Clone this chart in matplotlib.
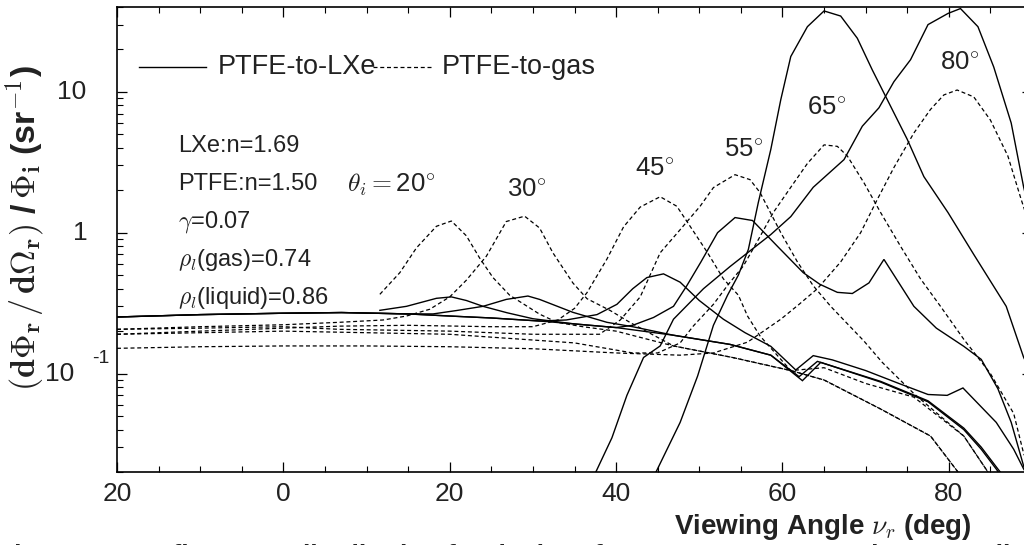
import matplotlib
matplotlib.use("Agg")
import matplotlib.pyplot as plt
from matplotlib.ticker import FixedLocator, LogLocator, MultipleLocator, NullFormatter

plt.rcParams['font.family'] = ['Liberation Sans', 'DejaVu Sans']
plt.rcParams['mathtext.fontset'] = 'cm'

# ---- reflectance curves, PTFE-to-LXe (solid) ----
nu_lxe_20 = [11.6, 14.8, 18.4, 20.2, 22.0, 24.0, 26.9, 30.0, 35.0, 40.0, 46.9, 53.7, 58.6,
             62.4, 64.6, 71.8, 77.5, 81.8, 83.9, 85.7, 86.5]
r_lxe_20 = [0.281, 0.30, 0.342, 0.35, 0.33, 0.30, 0.27, 0.245, 0.225, 0.212, 0.187, 0.161,
            0.135, 0.089, 0.12, 0.087, 0.063, 0.040, 0.029, 0.021, 0.018]

nu_lxe_30 = [-20, -10, 0, 7, 15, 18, 20.8, 24, 26.8, 29.4, 30.8, 34.8, 38.9, 42, 46.9, 53.7,
             58.6, 62.0, 64.2, 71.8, 77.5, 81.8, 83.9, 85.9, 86.8]
r_lxe_30 = [0.252, 0.262, 0.268, 0.271, 0.265, 0.265, 0.28, 0.30, 0.336, 0.355, 0.336, 0.272,
            0.231, 0.215, 0.187, 0.161, 0.135, 0.095, 0.122, 0.088, 0.064, 0.041, 0.030,
            0.021, 0.018]

nu_lxe_45 = [-20, -10, 0, 7, 15, 20, 25, 30.8, 34, 37.7, 40.1, 42, 43.7, 45.7, 47.7, 50, 52.9,
             55.5, 58.6, 61.6, 63.7, 66, 70, 74, 77.5, 79.8, 81.7, 85.7, 87.8, 89, 90]
r_lxe_45 = [0.252, 0.262, 0.268, 0.271, 0.265, 0.256, 0.248, 0.236, 0.24, 0.262, 0.31, 0.40,
            0.48, 0.51, 0.445, 0.33, 0.243, 0.195, 0.156, 0.106, 0.134, 0.125, 0.105, 0.085,
            0.071, 0.070, 0.079, 0.045, 0.029, 0.021, 0.017]

nu_lxe_55 = [-20, -10, 0, 7, 15, 20, 25, 30.8, 35, 40, 42, 44.5, 46.9, 48.5, 50.2, 52.2, 54.3,
             56.4, 59.4, 62.5, 64.5, 66.6, 68.4, 70.4, 72.2, 75.8, 78.5, 81.8, 83.9, 85.9,
             87.5, 89, 90]
r_lxe_55 = [0.252, 0.262, 0.268, 0.271, 0.265, 0.256, 0.248, 0.236, 0.225, 0.212, 0.22, 0.25,
            0.30, 0.42, 0.62, 1.0, 1.28, 1.22, 0.80, 0.52, 0.43, 0.377, 0.37, 0.44, 0.646,
            0.30, 0.21, 0.156, 0.126, 0.078, 0.045, 0.022, 0.016]

nu_lxe_65 = [44.8, 47.7, 49.8, 51.7, 53.4, 54.7, 55.9, 57.1, 58.6, 59.8, 61.0, 63.0, 65.0,
             67.0, 69.0, 70.8, 72.6, 75.0, 77.0, 79.9, 83.0, 86.9, 89.0, 90.0]
r_lxe_65 = [0.02, 0.045, 0.096, 0.22, 0.36, 0.50, 0.76, 1.64, 3.9, 8.8, 17.8, 29, 37.5, 34.5,
            24, 14.3, 8.8, 4.6, 2.5, 1.39, 0.70, 0.30, 0.13, 0.10]

nu_lxe_80 = [37.2, 39.5, 41.3, 43.3, 45.3, 46.9, 50.5, 53.7, 58.6, 61.0, 63.7, 67.4, 69.6,
             71.6, 73.4, 75.4, 77.5, 79.9, 81.4, 83.5, 85.4, 87.5, 89.0, 90.0]
r_lxe_80 = [0.018, 0.035, 0.07, 0.13, 0.157, 0.243, 0.40, 0.575, 0.97, 1.3, 2.1, 3.3, 5.7,
            7.7, 11.8, 16.9, 30, 36, 39, 29, 15, 6, 2.1, 1.2]

# ---- reflectance curves, PTFE-to-gas (dashed) ----
nu_gas_20 = [11.6, 14.0, 16.0, 18.4, 20.2, 22.0, 23.6, 25.2, 27.2, 30.8, 32.9, 36.0, 40.0,
             46.9, 54.0, 61.0, 65.0, 71.8, 77.8, 81.1, 82.0]
r_gas_20 = [0.365, 0.52, 0.78, 1.11, 1.21, 0.95, 0.66, 0.48, 0.36, 0.264, 0.231, 0.215, 0.20,
            0.157, 0.13, 0.105, 0.09, 0.056, 0.036, 0.020, 0.017]

nu_gas_30 = [-20, -10, 0, 6.7, 12.0, 14.8, 17.6, 20.0, 22.0, 24.4, 26.8, 29.0, 30.8, 32.4,
             34.8, 36.5, 39.3, 41.7, 46.9, 54.0, 61.0, 65.0, 71.8, 77.8, 81.1, 82.0]
r_gas_30 = [0.206, 0.215, 0.222, 0.231, 0.24, 0.256, 0.286, 0.35, 0.46, 0.68, 1.2, 1.31, 1.08,
            0.72, 0.44, 0.34, 0.28, 0.23, 0.157, 0.13, 0.105, 0.09, 0.056, 0.036, 0.020,
            0.017]

nu_gas_45 = [-20, -10, 0, 6.7, 15, 25, 30, 33, 35, 36.5, 38.9, 40.9, 42.9, 45.3, 47.3, 48.9,
             51.0, 52.9, 54.7, 55.8, 57.3, 61.0, 65.0, 70.0, 75.8, 81.8, 84.7, 85.5]
r_gas_45 = [0.19, 0.2, 0.21, 0.217, 0.22, 0.215, 0.215, 0.24, 0.29, 0.375, 0.65, 1.10, 1.52,
            1.80, 1.54, 1.11, 0.72, 0.47, 0.36, 0.256, 0.185, 0.105, 0.11, 0.085, 0.068,
            0.036, 0.020, 0.017]

nu_gas_55 = [-20, -10, 0, 6.7, 20, 30, 38, 40.5, 42.9, 45.3, 47.7, 50.1, 51.7, 54.3, 56.1,
             57.3, 59.8, 61.8, 63.7, 65.8, 69.8, 72.0, 75.8, 81.8, 84.7, 85.5]
r_gas_55 = [0.206, 0.21, 0.215, 0.206, 0.2, 0.19, 0.19, 0.24, 0.35, 0.72, 1.05, 1.54, 2.09,
            2.58, 2.38, 1.93, 1.0, 0.62, 0.42, 0.30, 0.17, 0.12, 0.072, 0.036, 0.020, 0.017]

nu_gas_65 = [-20, 0, 20, 35, 42, 45, 47.7, 49.3, 51.7, 53.5, 55.3, 56.9, 58.9, 61.0, 63.0,
             65.0, 66.6, 67.8, 69.8, 71.8, 74.2, 76.6, 79.0, 81.8, 85.0, 87.8, 89.0, 90.0]
r_gas_65 = [0.19, 0.2, 0.19, 0.165, 0.14, 0.14, 0.165, 0.218, 0.31, 0.43, 0.58, 0.85, 1.39,
            2.1, 3.1, 4.2, 4.1, 3.5, 2.26, 1.39, 0.80, 0.47, 0.30, 0.175, 0.10, 0.052, 0.027,
            0.02]

nu_gas_80 = [-20, -10, 0, 10, 20, 30, 40, 47.7, 51.7, 55.8, 59.8, 62.0, 64.2, 67.0, 69.4,
             71.4, 73.4, 75.8, 77.8, 79.4, 81.0, 83.0, 85.0, 87.1, 88.7, 90.0]
r_gas_80 = [0.151, 0.155, 0.157, 0.157, 0.155, 0.15, 0.14, 0.135, 0.14, 0.167, 0.243, 0.31,
            0.40, 0.62, 1.0, 1.72, 2.9, 5.1, 7.5, 9.5, 10.3, 9.2, 6.3, 3.5, 1.72, 1.0]

# ---- axis ticks and annotations ----
x_ticks = [-20, 0, 20, 40, 60, 80]
x_tick_labels = ["20", "0", "20", "40", "60", "80"]
y_ticks = [0.1, 1, 10]
incidence_labels = [r"$\theta_i =$20$\!^\circ$", r"30$\!^\circ$", r"45$\!^\circ$",
                    r"55$\!^\circ$", r"65$\!^\circ$", r"80$\!^\circ$"]
incidence_pos = [(7.7, 2.17), (26.9, 2.03), (42.3, 2.9), (53.0, 3.92), (63.0, 7.8), (79.0, 16.3)]
param_lines = ["LXe:n=1.69", "PTFE:n=1.50", r"$\gamma$=0.07",
               r"$\rho_l$(gas)=0.74", r"$\rho_l$(liquid)=0.86"]
legend_labels = ["PTFE-to-LXe", "PTFE-to-gas"]

INK = "#222222"
W, H = 1024, 545
AX_L, AX_T, AX_W, AX_H = 117, 7, 915, 465
fig = plt.figure(figsize=(W / 100, H / 100), dpi=100)
ax = fig.add_axes([AX_L / W, 1 - (AX_T + AX_H) / H, AX_W / W, AX_H / H])

lxe = [(nu_lxe_20, r_lxe_20), (nu_lxe_30, r_lxe_30), (nu_lxe_45, r_lxe_45),
       (nu_lxe_55, r_lxe_55), (nu_lxe_65, r_lxe_65), (nu_lxe_80, r_lxe_80)]
gas = [(nu_gas_20, r_gas_20), (nu_gas_30, r_gas_30), (nu_gas_45, r_gas_45),
       (nu_gas_55, r_gas_55), (nu_gas_65, r_gas_65), (nu_gas_80, r_gas_80)]

SOLID = dict(color="black", lw=1.0, solid_joinstyle="miter")
DASHED = dict(color="black", lw=0.9, dashes=(3.2, 2.2))
for x, y in lxe:
    ax.plot(x, y, **SOLID)
for x, y in gas:
    ax.plot(x, y, **DASHED)

ax.set_yscale("log")
ax.set_xlim(-20, 90)
ax.set_ylim(0.02, 40)

ax.xaxis.set_major_locator(FixedLocator(x_ticks))
ax.xaxis.set_minor_locator(MultipleLocator(5))
ax.set_xticklabels(x_tick_labels)
ax.yaxis.set_major_locator(FixedLocator(y_ticks))
ax.yaxis.set_minor_locator(LogLocator(base=10, subs=range(2, 10)))
ax.yaxis.set_major_formatter(NullFormatter())
ax.yaxis.set_minor_formatter(NullFormatter())

ax.tick_params(which="both", direction="in", top=True, right=True, color="black")
ax.tick_params(which="major", length=7.2, width=0.9, labelsize=19, labelcolor=INK, pad=7)
ax.tick_params(which="minor", length=4.0, width=0.8)
for s in ax.spines.values():
    s.set_linewidth(1.2)

# y tick labels
ytr = ax.get_yaxis_transform()
ax.text(-31 / AX_W, 10, "10", transform=ytr, ha="right", va="center", fontsize=19, color=INK)
ax.text(-29 / AX_W, 1, "1", transform=ytr, ha="right", va="center", fontsize=19, color=INK)
ax.text(-43 / AX_W, 0.1, "10", transform=ytr, ha="right", va="center", fontsize=19, color=INK)
ax.text(-25 / AX_W, 0.127, "-1", transform=ytr, ha="left", va="center", fontsize=14, color=INK)


def ax_px(px, py):
    """Figure pixel position -> axes fraction."""
    return (px - AX_L) / AX_W, (AX_T + AX_H - py) / AX_H


# legend: solid and dashed keys with their labels
ly = ax_px(0, 67)[1]
ax.plot([ax_px(139, 0)[0], ax_px(206, 0)[0]], [ly, ly], transform=ax.transAxes,
        clip_on=False, **SOLID)
ax.text(ax_px(218, 0)[0], ly, legend_labels[0], transform=ax.transAxes, fontsize=19.5,
        color=INK, ha="left", va="center")
ax.plot([ax_px(373, 0)[0], ax_px(433, 0)[0]], [ly, ly], transform=ax.transAxes,
        clip_on=False, **DASHED)
ax.text(ax_px(442, 0)[0], ly, legend_labels[1], transform=ax.transAxes, fontsize=19.5,
        color=INK, ha="left", va="center")

# incidence angle labels
for txt, (xp, yp) in zip(incidence_labels, incidence_pos):
    ax.text(xp, yp, txt, fontsize=18.5, color=INK, ha="left", va="center")

# material parameters
for k, txt in enumerate(param_lines):
    fig.text(178 / W, 1 - (146 + 38 * k) / H, txt, fontsize=17, color=INK,
             ha="left", va="center")

fig.text(25 / W, 1 - 228 / H,
         r"$(\mathbf{d\Phi_r}\,/\,\mathbf{d\Omega_r})$ /$\,\mathbf{\Phi_i}$ (sr$^{\mathbf{-1}}$)",
         rotation=90, ha="center", va="center", fontsize=24.5, fontweight="bold", color=INK)
fig.text(823 / W, 1 - 527 / H, r"Viewing Angle $\nu_r$ (deg)", ha="center", va="center",
         fontsize=20, fontweight="bold", color=INK)
fig.text(-2 / W, 1 - 544 / H,
         "Figure 7.2: Reflectance distribution for the interfaces PTFE-to-gas and PTFE-to-liquid xenon",
         ha="left", va="top", fontsize=19, fontweight="bold", color=INK)

fig.savefig("out.png", dpi=100)
